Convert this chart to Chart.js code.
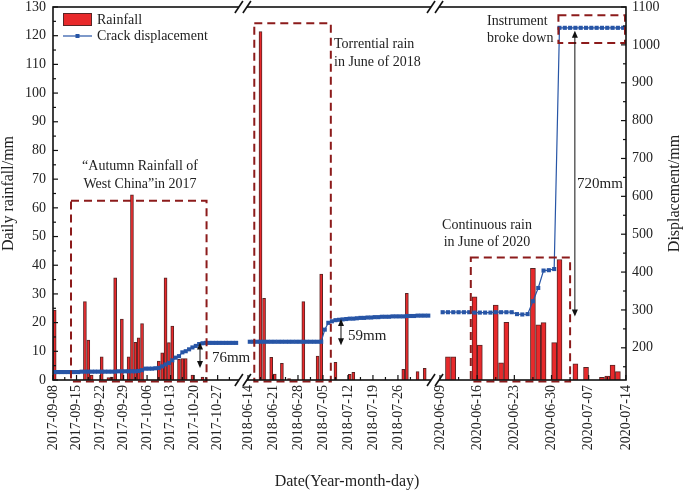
<!DOCTYPE html>
<html>
<head>
<meta charset="utf-8">
<script src="https://cdn.jsdelivr.net/npm/chart.js@4.4.1/dist/chart.umd.min.js"></script>
<style>
  html, body { margin: 0; padding: 0; background: #fff; }
  canvas { display: block; }
</style>
</head>
<body>
<canvas id="myChart" width="685" height="492"></canvas>
<script>
// the date axis is broken in three pieces
const segStarts = ['2017-09-08', '2018-06-14', '2020-06-09'];

// tick labels of each piece
const ticks2017 = ['2017-09-08', '2017-09-15', '2017-09-22', '2017-09-29', '2017-10-06', '2017-10-13', '2017-10-20', '2017-10-27'];
const ticks2018 = ['2018-06-14', '2018-06-21', '2018-06-28', '2018-07-05', '2018-07-12', '2018-07-19', '2018-07-26'];
const ticks2020 = ['2020-06-09', '2020-06-16', '2020-06-23', '2020-06-30', '2020-07-07', '2020-07-14'];

// daily rainfall (mm)
const rainDays2017 = ['2017-09-08', '2017-09-17', '2017-09-18', '2017-09-19', '2017-09-22', '2017-09-24', '2017-09-25', '2017-09-26', '2017-09-28', '2017-09-30', '2017-10-01', '2017-10-02', '2017-10-03', '2017-10-04', '2017-10-09', '2017-10-10', '2017-10-11', '2017-10-12', '2017-10-13', '2017-10-15', '2017-10-16', '2017-10-17', '2017-10-19', '2017-10-22'];
const rain2017 = [24.4, 27.3, 13.9, 1.7, 8.1, 0.8, 1.0, 35.6, 21.2, 8.1, 64.5, 13.1, 14.7, 19.7, 6.6, 9.5, 35.6, 13.0, 18.8, 7.2, 7.5, 7.5, 1.7, 1.0];

const rainDays2018 = ['2018-06-17', '2018-06-18', '2018-06-20', '2018-06-21', '2018-06-23', '2018-06-25', '2018-06-29', '2018-07-03', '2018-07-04', '2018-07-08', '2018-07-12', '2018-07-13', '2018-07-27', '2018-07-28', '2018-07-31', '2018-08-02'];
const rain2018 = [121.4, 28.5, 7.9, 2.1, 5.8, 0.5, 27.3, 8.3, 36.9, 6.2, 2.0, 2.7, 3.7, 30.2, 2.9, 4.1];

const rainDays2020 = ['2020-06-10', '2020-06-11', '2020-06-15', '2020-06-16', '2020-06-19', '2020-06-20', '2020-06-21', '2020-06-26', '2020-06-27', '2020-06-28', '2020-06-30', '2020-07-01', '2020-07-04', '2020-07-06', '2020-07-09', '2020-07-10', '2020-07-11', '2020-07-12'];
const rain2020 = [8.1, 8.1, 29.0, 12.2, 26.1, 6.0, 20.1, 38.9, 19.2, 20.0, 13.0, 42.0, 5.6, 4.4, 0.9, 1.4, 5.2, 2.9];

// crack displacement (mm), one value a day from the start of each piece
const disp2017 = [136, 136, 136, 136, 136, 136, 136, 136, 137, 137, 137, 137, 137, 137, 137, 137, 137, 137, 137, 138, 138, 138, 138,
  138, 138, 139, 141, 145, 145, 145, 146, 147, 151, 156, 160, 167, 174, 178, 188, 191, 196, 201, 205, 210,
  212, 213, 213, 213, 213, 213, 213, 213, 213, 213, 213];
const disp2018 = [216, 216, 216, 216, 216, 216, 216, 216, 216, 216, 216, 216, 216, 216, 216, 216, 216, 216, 216, 216, 216,
  248, 266, 270, 273, 274, 275, 276, 277, 277, 278, 279, 279, 280, 280, 281, 281, 282, 282, 282, 283, 283, 283, 283, 284, 284, 284, 285, 285, 285, 285];
const disp2020 = [294, 294, 294, 294, 294, 294, 293, 293, 293, 293, 294, 294, 294, 294,
  289, 288, 289, 323, 358, 404, 405, 408,
  1045, 1045, 1045, 1045, 1045, 1045, 1045, 1045, 1045, 1045, 1045, 1045, 1045, 1045];

// layout of the broken axis: where each piece starts and how wide a day is
const segU0 = [0, 195, 387];
const segPpd = [3.36, 3.57, 5.31];
const segLen = [55, 51, 35];
const xMax = 573;

const serif = '"Liberation Serif", "Times New Roman", serif';
const txt = '#222';
const red = '#e8292b';
const redEdge = '#5a2424';
const blue = '#2755a6';
const boxRed = '#8c1b1b';

const DAY = 86400000;
const dayIndex = (seg, date) => (Date.parse(date) - Date.parse(segStarts[seg])) / DAY;
const toU = (seg, day) => segU0[seg] + day * segPpd[seg];

const tickLists = [ticks2017, ticks2018, ticks2020];
const tickU = [];
const tickLabels = [];
tickLists.forEach((list, seg) => list.forEach(d => {
  tickU.push(toU(seg, dayIndex(seg, d)));
  tickLabels.push(d);
}));

const rainBars = (seg, days, vals) => days.map((d, i) => ({ x: toU(seg, dayIndex(seg, d) + 0.5), y: vals[i] }));

const dispPoints = [];
[disp2017, disp2018, disp2020].forEach((vals, seg) => {
  vals.forEach((v, i) => dispPoints.push({ x: toU(seg, i + 0.5), y: v }));
  if (seg < 2) dispPoints.push({ x: toU(seg, vals.length + 0.5), y: null });
});

const barSet = (data, thick) => ({
  type: 'bar', label: 'Rainfall', data, yAxisID: 'y',
  backgroundColor: red, borderColor: redEdge, borderWidth: 1,
  barThickness: thick, grouped: false, order: 2
});

const decor = {
  id: 'decor',
  afterDraw(chart) {
    const { ctx, chartArea: a } = chart;
    const sx = chart.scales.x, sy = chart.scales.y, sy1 = chart.scales.y1;
    const px = (seg, day) => sx.getPixelForValue(toU(seg, day));

    const text = (s, x, y, align, size, rot) => {
      ctx.save();
      ctx.font = (size || 14) + 'px ' + serif;
      ctx.fillStyle = txt;
      ctx.textAlign = align || 'left';
      ctx.textBaseline = 'middle';
      ctx.translate(x, y);
      if (rot) ctx.rotate(rot);
      ctx.fillText(s, 0, 0);
      ctx.restore();
    };
    const line = (x1, y1, x2, y2, w, c) => {
      ctx.beginPath(); ctx.moveTo(x1, y1); ctx.lineTo(x2, y2);
      ctx.lineWidth = w; ctx.strokeStyle = c || '#111'; ctx.stroke();
    };
    const head = (x, y, dir) => {
      ctx.beginPath(); ctx.moveTo(x, y); ctx.lineTo(x - 3, y - dir * 7); ctx.lineTo(x + 3, y - dir * 7);
      ctx.closePath(); ctx.fillStyle = '#111'; ctx.fill();
    };
    const arrow = (x, yTop, yBot) => {
      line(x, yTop + 2, x, yBot - 2, 1);
      head(x, yTop, -1); head(x, yBot, 1);
    };

    ctx.save();
    // dashed boxes
    ctx.setLineDash([8, 5]);
    ctx.lineWidth = 2;
    ctx.strokeStyle = boxRed;
    const box = (x1, y1, x2, y2) => ctx.strokeRect(x1, y1, x2 - x1, y2 - y1);
    box(px(0, 5.36), sy.getPixelForValue(62.5), px(0, 45.7), a.bottom + 1.5);
    box(px(1, 1.76), sy.getPixelForValue(124.3), px(1, 23.2), a.bottom + 1.5);
    box(px(2, 5.8), sy.getPixelForValue(42.7), px(2, 24.5), a.bottom + 1.5);
    box(px(2, 22.3), sy1.getPixelForValue(1078), a.right - 1, sy1.getPixelForValue(1005));
    ctx.setLineDash([]);

    // frame
    ctx.lineWidth = 1.6;
    ctx.strokeStyle = '#111';
    ctx.strokeRect(a.left, a.top, a.right - a.left, a.bottom - a.top);

    // inward ticks
    tickLists.forEach((list, seg) => list.forEach(d => {
      const x = px(seg, dayIndex(seg, d));
      line(x, a.bottom, x, a.bottom - 5, 1.2);
      const xm = px(seg, dayIndex(seg, d) + 3.5);
      if (dayIndex(seg, d) + 3.5 < segLen[seg]) line(xm, a.bottom, xm, a.bottom - 3, 1.2);
    }));
    for (let v = 0; v <= 130; v += 5) {
      const y = sy.getPixelForValue(v);
      line(a.left, y, a.left + (v % 10 ? 3 : 5), y, 1.2);
    }
    for (let v = 150; v <= 1100; v += 50) {
      const y = sy1.getPixelForValue(v);
      line(a.right, y, a.right - (v % 100 ? 3 : 5), y, 1.2);
    }

    // axis breaks
    [[0, 1], [1, 2]].forEach(([s1, s2]) => {
      const cx = (sx.getPixelForValue(toU(s1, segLen[s1])) + sx.getPixelForValue(segU0[s2])) / 2;
      [a.top, a.bottom].forEach(y => {
        ctx.fillStyle = '#fff';
        ctx.fillRect(cx - 4, y - 2, 8, 4);
        [cx - 4, cx + 4].forEach(s => line(s - 4, y + 6, s + 4, y - 6, 1.6));
      });
    });

    // notes
    text('\u201cAutumn Rainfall of', px(0, 25.9), sy.getPixelForValue(74.6), 'center');
    text('West China\u201din 2017', px(0, 25.9), sy.getPixelForValue(68.3), 'center');
    text('Torrential rain', px(1, 24.1), sy.getPixelForValue(117.1));
    text('in June of 2018', px(1, 24.1), sy.getPixelForValue(110.8));
    text('Continuous rain', px(2, 8.85), sy.getPixelForValue(54), 'center');
    text('in June of 2020', px(2, 8.85), sy.getPixelForValue(48.1), 'center');
    text('Instrument', px(2, 8.85), sy1.getPixelForValue(1061));
    text('broke down', px(2, 8.85), sy1.getPixelForValue(1016));

    arrow(px(0, 43.75), sy1.getPixelForValue(214), sy1.getPixelForValue(147));
    text('76mm', px(0, 47.3), sy1.getPixelForValue(174), 'left', 15);
    arrow(px(1, 26.05), sy1.getPixelForValue(276), sy1.getPixelForValue(207));
    text('59mm', px(1, 28), sy1.getPixelForValue(232), 'left', 15);
    arrow(px(2, 25.4), sy1.getPixelForValue(1037), sy1.getPixelForValue(283));
    text('720mm', px(2, 25.8), sy1.getPixelForValue(633), 'left', 15);

    // legend
    const lx = a.left + 10, ly = a.top + 6;
    ctx.fillStyle = red;
    ctx.fillRect(lx, ly, 29, 13);
    ctx.lineWidth = 1;
    ctx.strokeStyle = redEdge;
    ctx.strokeRect(lx + 0.5, ly + 0.5, 28, 12);
    text(chart.data.datasets[0].label, lx + 34, ly + 7);
    line(lx, ly + 23, lx + 29, ly + 23, 1.2, blue);
    ctx.fillStyle = blue;
    ctx.fillRect(lx + 12.5, ly + 21, 4, 4);
    text(chart.data.datasets[3].label, lx + 34, ly + 23);

    // axis titles
    text('Daily rainfall/mm', 9, (a.top + a.bottom) / 2, 'center', 16, -Math.PI / 2);
    text('Displacement/mm', 675, (a.top + a.bottom) / 2, 'center', 16, -Math.PI / 2);
    text('Date(Year-month-day)', 347, 482, 'center', 16);
    ctx.restore();
  }
};

const tickFont = { family: serif, size: 14, lineHeight: 1 };

new Chart(document.getElementById('myChart'), {
  data: {
    datasets: [
      barSet(rainBars(0, rainDays2017, rain2017), 3),
      barSet(rainBars(1, rainDays2018, rain2018), 3),
      barSet(rainBars(2, rainDays2020, rain2020), 5),
      {
        type: 'line', label: 'Crack displacement', data: dispPoints, yAxisID: 'y1',
        borderColor: blue, borderWidth: 1.2, pointStyle: 'rect', pointRadius: 2.9,
        pointBackgroundColor: blue, pointBorderWidth: 0, spanGaps: false, order: 1
      }
    ]
  },
  options: {
    responsive: false,
    animation: false,
    layout: { padding: 0 },
    plugins: { legend: { display: false }, tooltip: { enabled: false } },
    scales: {
      x: {
        type: 'linear', min: 0, max: xMax, offset: false,
        grid: { display: false, drawTicks: false }, border: { display: false },
        ticks: {
          autoSkip: false, minRotation: 90, maxRotation: 90, padding: 5,
          font: tickFont, color: txt,
          callback: (v, i) => tickLabels[i]
        },
        afterBuildTicks: s => { s.ticks = tickU.map(v => ({ value: v })); },
        afterFit: s => { s.height = 112; }
      },
      y: {
        position: 'left', min: 0, max: 130,
        grid: { display: false, drawTicks: false }, border: { display: false },
        ticks: { stepSize: 10, padding: 7, font: tickFont, color: txt },
        afterFit: s => { s.width = 53; s.paddingTop = 7; }
      },
      y1: {
        position: 'right', min: 115, max: 1100,
        grid: { display: false, drawTicks: false }, border: { display: false },
        ticks: { padding: 6, font: tickFont, color: txt, callback: v => String(v) },
        afterBuildTicks: s => {
          const t = [];
          for (let v = 200; v <= 1100; v += 100) t.push({ value: v });
          s.ticks = t;
        },
        afterFit: s => { s.width = 59; s.paddingTop = 7; }
      }
    }
  },
  plugins: [decor]
});
</script>
</body>
</html>
